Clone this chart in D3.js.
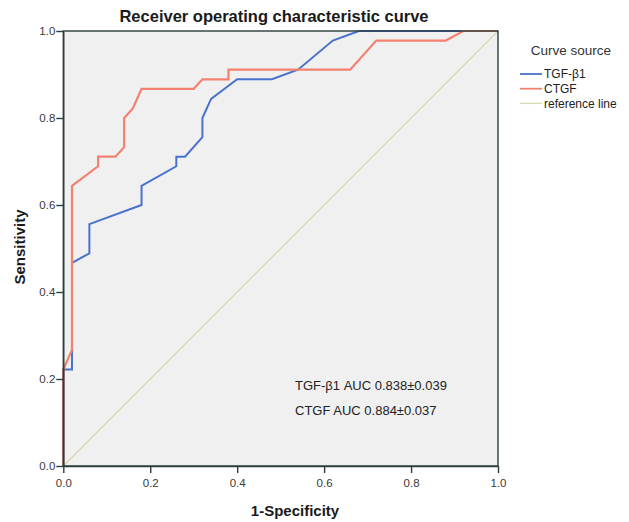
<!DOCTYPE html>
<html><head><meta charset="utf-8">
<script src="https://cdn.jsdelivr.net/npm/d3@7"></script>
<style>body{margin:0;background:#fff;}svg{display:block;font-family:"Liberation Sans",Arial,sans-serif;}</style>
</head><body>
<svg id="c" width="629" height="522"></svg>
<script>
const title = "Receiver operating characteristic curve";
const xTicks = [0, 0.2, 0.4, 0.6, 0.8, 1.0];
const yTicks = [0, 0.2, 0.4, 0.6, 0.8, 1.0];
const seriesNames = ["TGF-\u03b21", "CTGF", "reference line"];
const tgfX = [0, 0, 0.02, 0.02, 0.02, 0.06, 0.06, 0.18, 0.18, 0.26, 0.26, 0.28, 0.32, 0.32, 0.34, 0.40, 0.48, 0.54, 0.62, 0.68, 1];
const tgfY = [0, 0.222, 0.222, 0.267, 0.467, 0.489, 0.556, 0.60, 0.644, 0.689, 0.711, 0.711, 0.756, 0.80, 0.844, 0.889, 0.889, 0.911, 0.978, 1.0, 1];
const ctgfX = [0, 0, 0.02, 0.02, 0.08, 0.08, 0.12, 0.14, 0.14, 0.16, 0.18, 0.30, 0.32, 0.38, 0.38, 0.66, 0.72, 0.88, 0.92, 1];
const ctgfY = [0, 0.222, 0.267, 0.644, 0.689, 0.711, 0.711, 0.733, 0.80, 0.822, 0.867, 0.867, 0.889, 0.889, 0.911, 0.911, 0.978, 0.978, 1.0, 1];
const refX = [0, 1];
const refY = [0, 1];
const aucLabels = ["TGF-\u03b21 AUC 0.838\u00b10.039", "CTGF AUC 0.884\u00b10.037"];
const colors = ["#4a72cc", "#f2826f", "#d6d9ad"];

const svg = d3.select("#c");
const x = d3.scaleLinear().domain([0, 1]).range([63.3, 498]);
const y = d3.scaleLinear().domain([0, 1]).range([466, 31]);
const axisColor = "#2c3d3d";

svg.append("rect").attr("x", x(0)).attr("y", y(1)).attr("width", x(1) - x(0)).attr("height", y(0) - y(1)).attr("fill", "#f0f0f0");

const line = d3.line().x(d => x(d[0])).y(d => y(d[1]));
const toPts = (xs, ys) => xs.map((v, i) => [v, ys[i]]);

svg.append("path").datum(toPts(refX, refY)).attr("d", line).attr("fill", "none").attr("stroke", colors[2]).attr("stroke-width", 1.3);
svg.append("path").datum(toPts(tgfX, tgfY)).attr("d", line).attr("fill", "none").attr("stroke", colors[0]).attr("stroke-width", 2);
svg.append("path").datum(toPts(ctgfX, ctgfY)).attr("d", line).attr("fill", "none").attr("stroke", colors[1]).attr("stroke-width", 2.2);

// frame
svg.append("rect").attr("x", x(0)).attr("y", y(1)).attr("width", x(1) - x(0)).attr("height", y(0) - y(1)).attr("fill", "none").attr("stroke", axisColor).attr("stroke-width", 1.4);

const fmt = d3.format(".1f");
const xa = svg.append("g").attr("transform", `translate(0,${y(0)})`).call(d3.axisBottom(x).tickValues(xTicks).tickFormat(fmt).tickSize(7).tickSizeOuter(0));
const ya = svg.append("g").attr("transform", `translate(${x(0)},0)`).call(d3.axisLeft(y).tickValues(yTicks).tickFormat(fmt).tickSize(7).tickSizeOuter(0));
[xa, ya].forEach(a => {
  a.select(".domain").attr("stroke", axisColor).attr("stroke-width", 1.4);
  a.selectAll(".tick line").attr("stroke", axisColor).attr("stroke-width", 1.4);
  a.selectAll(".tick text").attr("fill", "#3a3a3a").attr("font-size", 11.5).attr("font-family", "Liberation Sans, Arial, sans-serif");
});
xa.selectAll(".tick text").attr("dy", "0.95em");
ya.selectAll(".tick text").attr("x", -8);

svg.append("text").attr("x", 274).attr("y", 22).attr("text-anchor", "middle").attr("font-weight", "bold").attr("font-size", 16.5).attr("fill", "#1a1a1a").text(title);
svg.append("text").attr("x", 295).attr("y", 516).attr("text-anchor", "middle").attr("font-weight", "bold").attr("font-size", 15).attr("fill", "#1a1a1a").text("1-Specificity");
svg.append("text").attr("transform", "translate(25,247) rotate(-90)").attr("text-anchor", "middle").attr("font-weight", "bold").attr("font-size", 15).attr("fill", "#1a1a1a").text("Sensitivity");

aucLabels.forEach((t, i) => {
  svg.append("text").attr("x", 295).attr("y", 390 + i * 25).attr("font-size", 13).attr("fill", "#222").text(t);
});

// legend
svg.append("text").attr("x", 571).attr("y", 55).attr("text-anchor", "middle").attr("font-size", 13.5).attr("fill", "#333").text("Curve source");
seriesNames.forEach((n, i) => {
  const yy = 74 + i * 14.7;
  svg.append("line").attr("x1", 520).attr("x2", 542).attr("y1", yy).attr("y2", yy).attr("stroke", colors[i]).attr("stroke-width", i === 2 ? 1.3 : 1.8);
  svg.append("text").attr("x", 544).attr("y", yy + 4.3).attr("font-size", 12).attr("fill", "#222").text(n);
});
</script>
</body></html>
